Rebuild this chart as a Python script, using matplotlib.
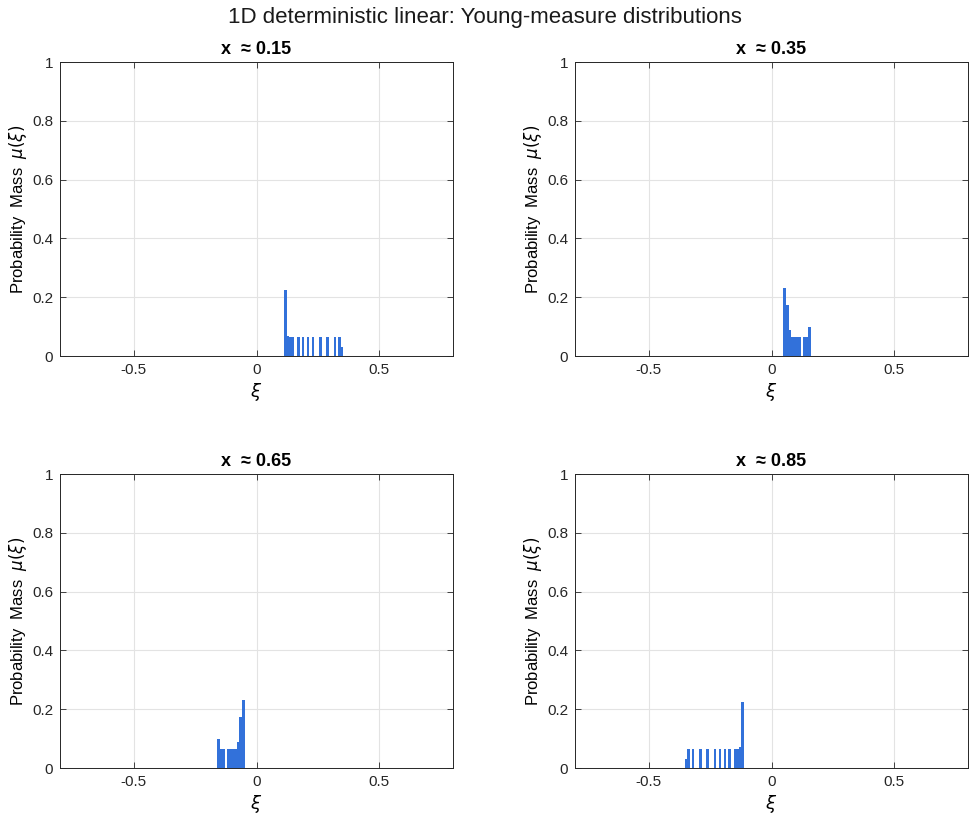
import matplotlib
matplotlib.use("Agg")
import matplotlib.pyplot as plt
import numpy as np

plt.rcParams['font.family'] = ['Liberation Sans', 'DejaVu Sans']
plt.rcParams['mathtext.fontset'] = 'dejavusans'

suptitle = "1D deterministic linear: Young-measure distributions"
panel_titles = ["x  \u2248 0.15", "x  \u2248 0.35", "x  \u2248 0.65", "x  \u2248 0.85"]

xi_p1 = [0.119, 0.129, 0.139, 0.149, 0.170, 0.190, 0.210, 0.230, 0.260, 0.290, 0.320, 0.337, 0.347]
mu_p1 = [0.224, 0.069, 0.065, 0.065, 0.065, 0.065, 0.065, 0.065, 0.065, 0.065, 0.065, 0.065, 0.032]

xi_p2 = [0.054, 0.064, 0.074, 0.084, 0.094, 0.104, 0.114, 0.135, 0.145, 0.155]
mu_p2 = [0.232, 0.175, 0.090, 0.065, 0.065, 0.065, 0.065, 0.065, 0.065, 0.098]

xi_p3 = [-0.155, -0.145, -0.135, -0.114, -0.104, -0.094, -0.084, -0.074, -0.064, -0.054]
mu_p3 = [0.098, 0.065, 0.065, 0.065, 0.065, 0.065, 0.065, 0.090, 0.175, 0.232]

xi_p4 = [-0.347, -0.337, -0.320, -0.290, -0.260, -0.230, -0.210, -0.190, -0.170, -0.149, -0.139, -0.129, -0.119]
mu_p4 = [0.032, 0.065, 0.065, 0.065, 0.065, 0.065, 0.065, 0.065, 0.065, 0.065, 0.065, 0.072, 0.224]

xticks = [-0.5, 0, 0.5]
xticklabels = ["-0.5", "0", "0.5"]
yticks = [0, 0.2, 0.4, 0.6, 0.8, 1]
yticklabels = ["0", "0.2", "0.4", "0.6", "0.8", "1"]

panels = [(xi_p1, mu_p1), (xi_p2, mu_p2), (xi_p3, mu_p3), (xi_p4, mu_p4)]

W, H = 969, 817
fig = plt.figure(figsize=(W / 100, H / 100), dpi=100)

# axes boxes in pixels: (left, top, right, bottom)
boxes = [(60, 62, 453, 356), (575, 62, 968, 356), (60, 474, 453, 768), (575, 474, 968, 768)]
bin_w = 0.0105
bar_color = '#3271da'

for (l, t, r, b), (xs, ms), ttl in zip(boxes, panels, panel_titles):
    ax = fig.add_axes([l / W, 1 - b / H, (r - l) / W, (b - t) / H])
    ax.bar(xs, ms, width=bin_w, color=bar_color, linewidth=0, zorder=3)
    ax.set_xlim(-0.8, 0.8)
    ax.set_ylim(0, 1)
    ax.set_xticks(xticks)
    ax.set_xticklabels(xticklabels)
    ax.set_yticks(yticks)
    ax.set_yticklabels(yticklabels)
    ax.grid(True, color='#e3e3e3', linewidth=0.8, zorder=0)
    ax.set_axisbelow(True)
    ax.tick_params(direction='in', length=4, width=0.6, labelsize=11, colors='#262626',
                   top=True, right=True, pad=5)
    for sp in ax.spines.values():
        sp.set_color('#262626')
        sp.set_linewidth(0.7)
    ax.set_title(ttl, fontsize=13, fontweight='bold', pad=6)
    ax.set_xlabel(r'$\xi$', fontsize=13, labelpad=3)
    ax.set_ylabel(r'Probability  Mass  $\mu(\xi)$', fontsize=12, labelpad=2)

fig.text(0.5, 1 - 18 / H, suptitle, ha='center', va='center', fontsize=16, color='#1a1a1a')

fig.savefig('out.png', dpi=100, facecolor='white')
